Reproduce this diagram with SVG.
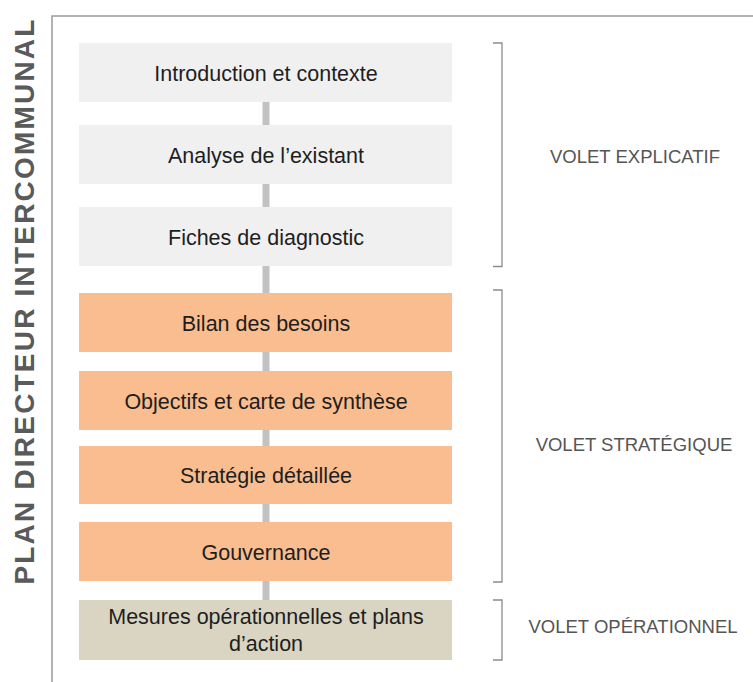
<svg xmlns="http://www.w3.org/2000/svg" width="753" height="682" viewBox="0 0 753 682">
  <style>
    .frame { stroke: #9a9a9a; stroke-width: 1.5; fill: none; }
    .conn { fill: #c2c2c2; }
    .box-g { fill: #f0f0f0; }
    .box-o { fill: #f9bd8f; }
    .box-b { fill: #d9d5c2; }
    .lbl { font-family: "Liberation Sans", Arial, sans-serif; font-size: 21.5px; fill: #1e1e1e; text-anchor: middle; }
    .brk { stroke: #8c8c8c; stroke-width: 1.3; fill: none; }
    .vol { font-family: "Liberation Sans", Arial, sans-serif; font-size: 18.5px; fill: #555555; text-anchor: middle; }
    .title { font-family: "Liberation Sans", Arial, sans-serif; font-size: 28px; font-weight: bold; fill: #5a5a5a; text-anchor: middle; letter-spacing: 2.2px; }
  </style>
  <rect width="753" height="682" fill="#ffffff"/>
  <g id="frame">
    <path class="frame" d="M52,682 V16 H753"/>
  </g>
  <text id="title" class="title" x="34" y="301" transform="rotate(-90 34 301)">PLAN DIRECTEUR INTERCOMMUNAL</text>
  <g id="connectors">
    <rect class="conn" x="262.5" y="102" width="7" height="23"/>
    <rect class="conn" x="262.5" y="184" width="7" height="23"/>
    <rect class="conn" x="262.5" y="266" width="7" height="27"/>
    <rect class="conn" x="262.5" y="352" width="7" height="19"/>
    <rect class="conn" x="262.5" y="430" width="7" height="16"/>
    <rect class="conn" x="262.5" y="504" width="7" height="18"/>
    <rect class="conn" x="262.5" y="581" width="7" height="19"/>
  </g>
  <g id="n1"><rect class="box-g" x="79" y="43" width="373" height="59"/><text class="lbl" x="266" y="80.5">Introduction et contexte</text></g>
  <g id="n2"><rect class="box-g" x="79" y="125" width="373" height="59"/><text class="lbl" x="266" y="162.5">Analyse de l’existant</text></g>
  <g id="n3"><rect class="box-g" x="79" y="207" width="373" height="59"/><text class="lbl" x="266" y="245">Fiches de diagnostic</text></g>
  <g id="n4"><rect class="box-o" x="79" y="293" width="373" height="59"/><text class="lbl" x="266" y="331">Bilan des besoins</text></g>
  <g id="n5"><rect class="box-o" x="79" y="371" width="373" height="59"/><text class="lbl" x="266" y="408.5">Objectifs et carte de synthèse</text></g>
  <g id="n6"><rect class="box-o" x="79" y="446" width="373" height="58"/><text class="lbl" x="266" y="482.5">Stratégie détaillée</text></g>
  <g id="n7"><rect class="box-o" x="79" y="522" width="373" height="59"/><text class="lbl" x="266" y="560">Gouvernance</text></g>
  <g id="n8"><rect class="box-b" x="79" y="600" width="373" height="60"/><text class="lbl" x="266" y="624">Mesures opérationnelles et plans</text><text class="lbl" x="266" y="651">d’action</text></g>
  <g id="volet-explicatif">
    <path class="brk" d="M493,43 H502 V266.5 H493"/>
    <text class="vol" x="635" y="163">VOLET EXPLICATIF</text>
  </g>
  <g id="volet-strategique">
    <path class="brk" d="M493,290 H502 V582 H493"/>
    <text class="vol" x="634" y="451">VOLET STRATÉGIQUE</text>
  </g>
  <g id="volet-operationnel">
    <path class="brk" d="M493,600 H502 V660 H493"/>
    <text class="vol" x="633" y="633">VOLET OPÉRATIONNEL</text>
  </g>
</svg>
